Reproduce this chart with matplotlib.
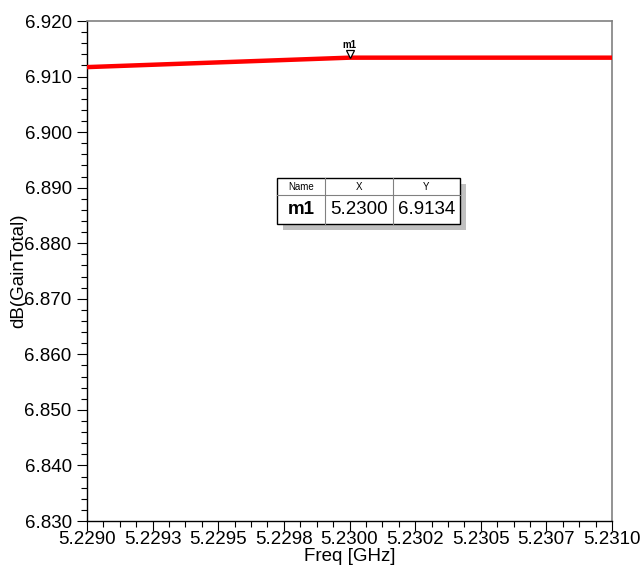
import matplotlib
matplotlib.use("Agg")
import matplotlib.pyplot as plt
from matplotlib.ticker import MultipleLocator
from matplotlib.patches import Rectangle

# sweep data (GHz, dB)
freq = [5.2290, 5.2300, 5.2310]
gain_db = [6.9117, 6.9134, 6.9134]

marker_name = "m1"
marker_x = 5.2300
marker_y = 6.9134

xticks = [5.2290, 5.22925, 5.2295, 5.22975, 5.2300, 5.23025, 5.2305, 5.23075, 5.2310]
xticklabels = ["5.2290", "5.2293", "5.2295", "5.2298", "5.2300",
               "5.2302", "5.2305", "5.2307", "5.2310"]
yticks = [6.830, 6.840, 6.850, 6.860, 6.870, 6.880, 6.890, 6.900, 6.910, 6.920]

plt.rcParams['font.family'] = ['Liberation Sans', 'DejaVu Sans']
FS = 13.5

fig = plt.figure(figsize=(6.43, 5.70), dpi=100)
ax = fig.add_axes([87 / 643, 1 - 521 / 570, (612 - 87) / 643, (521 - 21) / 570])

ax.plot(freq, gain_db, color="#ff0000", lw=3.2, solid_capstyle="butt", zorder=3)

# marker triangle + name
ax.plot([marker_x], [marker_y + 0.0007], marker="v", ms=6, mfc="white",
        mec="black", mew=0.9, zorder=4)
ax.text(marker_x, marker_y + 0.0013, marker_name, ha="center", va="bottom",
        fontsize=7, fontweight="bold")

ax.set_xlim(5.2290, 5.2310)
ax.set_ylim(6.830, 6.920)
ax.set_xticks(xticks)
ax.set_xticklabels(xticklabels)
ax.set_yticks(yticks)
ax.set_yticklabels(["%.3f" % v for v in yticks])
ax.xaxis.set_minor_locator(MultipleLocator(0.0000625))
ax.yaxis.set_minor_locator(MultipleLocator(0.002))

ax.tick_params(which="major", direction="out", length=7, width=0.8, labelsize=FS)
ax.tick_params(which="minor", direction="out", length=4, width=0.8)
ax.tick_params(axis="x", which="major", pad=0)
ax.tick_params(axis="y", which="major", pad=4)

for s in ["top", "right"]:
    ax.spines[s].set_color("#808080")
    ax.spines[s].set_linewidth(1.2)
for s in ["left", "bottom"]:
    ax.spines[s].set_color("black")
    ax.spines[s].set_linewidth(1.0)

ax.set_xlabel("Freq [GHz]", fontsize=FS, labelpad=0)
ax.set_ylabel("dB(GainTotal)", fontsize=FS)
ax.yaxis.set_label_coords(-0.113, 0.5)

# marker readout table (figure pixel layout)
W, H = 643.0, 570.0


def fx(px):
    return px / W


def fy(py):
    return 1 - py / H


left, top, bottom = 277, 178, 224
cols = [277, 325, 393, 460]
hdr_bottom = 195

fig.patches.append(Rectangle((fx(left + 6), fy(bottom + 6)), fx(cols[-1] - left), (bottom - top) / H,
                             transform=fig.transFigure, facecolor="#c0c0c0",
                             edgecolor="none", zorder=5))
fig.patches.append(Rectangle((fx(left), fy(bottom)), fx(cols[-1] - left), (bottom - top) / H,
                             transform=fig.transFigure, facecolor="white",
                             edgecolor="black", lw=1.0, zorder=6))
fig.lines.append(plt.Line2D([fx(left), fx(cols[-1])], [fy(hdr_bottom), fy(hdr_bottom)],
                            transform=fig.transFigure, color="#808080", lw=0.8, zorder=7))
for c in cols[1:-1]:
    fig.lines.append(plt.Line2D([fx(c), fx(c)], [fy(top), fy(bottom)],
                                transform=fig.transFigure, color="#808080", lw=0.8, zorder=7))

headers = ["Name", "X", "Y"]
values = [marker_name, "%.4f" % marker_x, "%.4f" % marker_y]
for i in range(3):
    cx = fx((cols[i] + cols[i + 1]) / 2)
    fig.text(cx, fy((top + hdr_bottom) / 2), headers[i], ha="center", va="center",
             fontsize=7, zorder=8)
    fig.text(cx, fy((hdr_bottom + bottom) / 2), values[i], ha="center", va="center",
             fontsize=FS, fontweight="bold" if i == 0 else "normal", zorder=8)

fig.savefig("out.png", dpi=100)
